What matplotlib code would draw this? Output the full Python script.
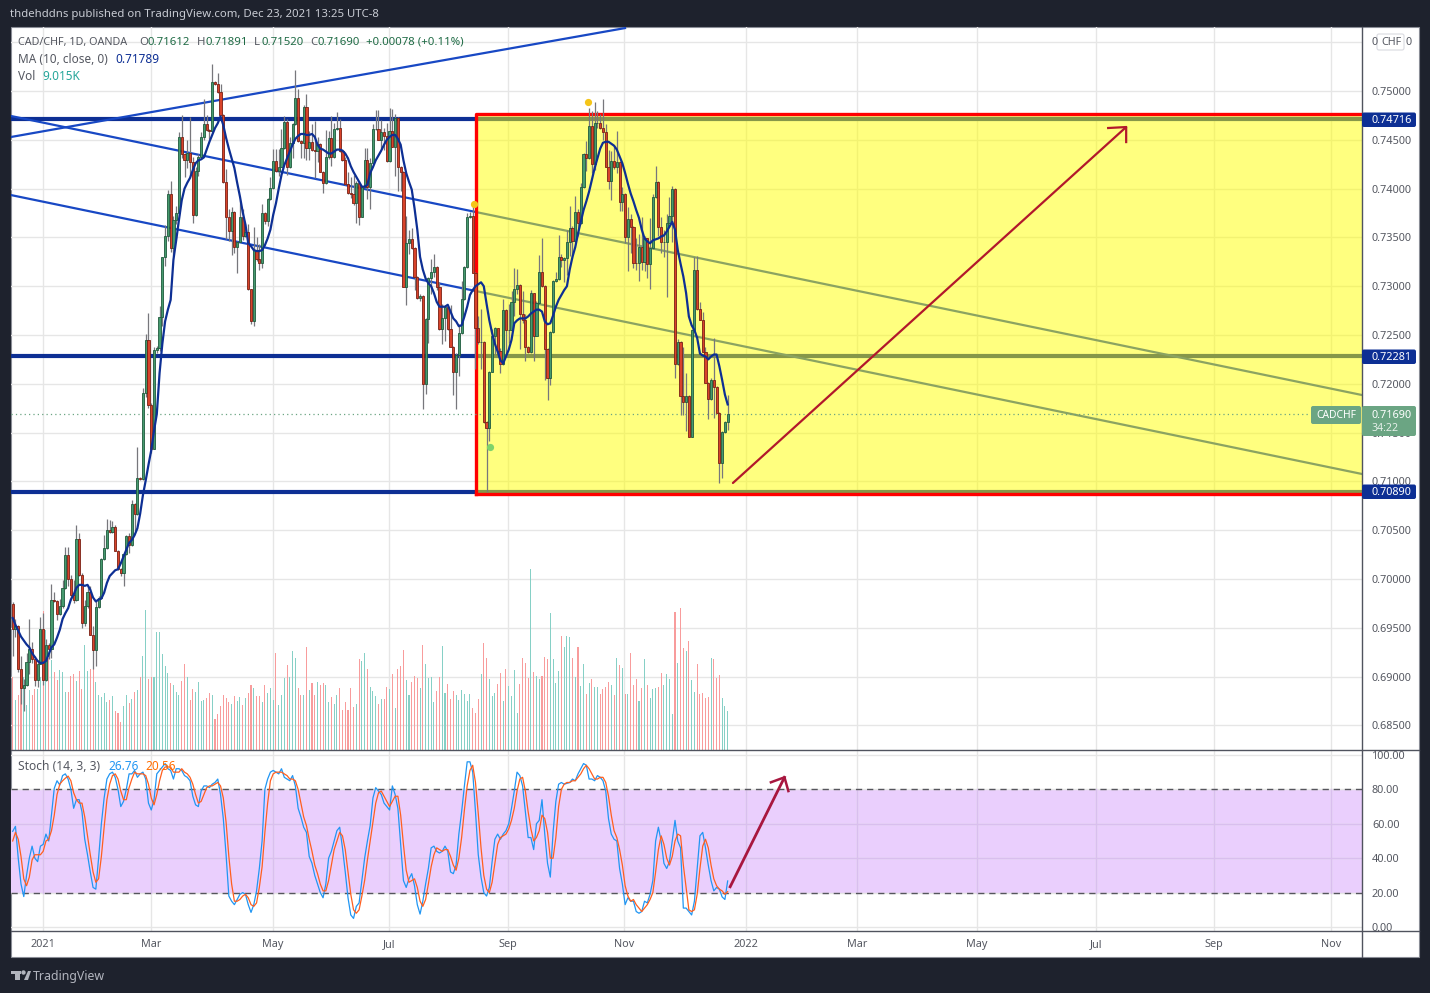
import matplotlib
matplotlib.use("Agg")
import matplotlib.pyplot as plt
import numpy as np
from matplotlib.patches import Rectangle, FancyBboxPatch, Polygon, Circle
from matplotlib.transforms import IdentityTransform

first_open = 0.69745
closes = [
 .69483,.69517,.69082,.68888,.68915,.69153,.69279,.69184,.68963,.69133,
 .69490,.68970,.69323,.69286,.69782,.69772,.69643,.69721,.69908,.70241,
 .70000,.69837,.69786,.70408,.70041,.69551,.69728,.69867,.69429,.69276,
 .69714,.69803,.70204,.70316,.70500,.70479,.70537,.70292,.70102,.70061,
 .70255,.70442,.70347,.70765,.70663,.71040,.71020,.71906,.72449,.71783,
 .71332,.72347,.72364,.72682,.73303,.73518,.73942,.73389,.73675,.73747,
 .74533,.74352,.74290,.74369,.74270,.73727,.74184,.74328,.74526,.74666,
 .74601,.74587,.75096,.75072,.74987,.74755,.74065,.73713,.73570,.73764,
 .73406,.73450,.73713,.73518,.73552,.72969,.72648,.73372,.73276,.73235,
 .73747,.73672,.73891,.74003,.74280,.74184,.74225,.74413,.74679,.74218,
 .74464,.74662,.74925,.74490,.74464,.74840,.74413,.74474,.74396,.74389,
 .74454,.74174,.74054,.74328,.74515,.74328,.74608,.74618,.74389,.74293,
 .74044,.73959,.73945,.73849,.74054,.73706,.74020,.74293,.74020,.74259,
 .74607,.74614,.74498,.74583,.74539,.74283,.74593,.74423,.74720,.74218,
 .74166,.72995,.73439,.73480,.73395,.73091,.72876,.72903,.71995,.72661,
 .73081,.73149,.73200,.72995,.72558,.72671,.72790,.72558,.72374,.72118,
 .72295,.72517,.72865,.73193,.73705,.73719,.73132,.72568,.72432,.72432,
 .71605,.71544,.72124,.72493,.72568,.72339,.72199,.72756,.72551,.72551,
 .72835,.72968,.73016,.72715,.72654,.72380,.72322,.72927,.72490,.72824,
 .73149,.73005,.72353,.72056,.72527,.73053,.73074,.73303,.73268,.73292,
 .73456,.73593,.73466,.73757,.73644,.74013,.74351,.74310,.74641,.74248,
 .74669,.74669,.74617,.74576,.74218,.74081,.74279,.74225,.74269,.73859,
 .73941,.73500,.73685,.73603,.73241,.73234,.73405,.73251,.73490,.73224,
 .73388,.73917,.74064,.73610,.73449,.73456,.73644,.73723,.73992,.72199,
 .72432,.71875,.71810,.71875,.71452,.72551,.73162,.72763,.72654,.72329,
 .72005,.71841,.72039,.71964,.71697,.71185,.71503,.71612,.71690]

wick_up = [
 2,7,1,13,6,9,31,8,3,4, 12,16,6,2,17,9,1,7,8,9, 9,4,15,15,6,2,6,6,6,9,
 7,2,1,13,11,10,6,2,1,1, 1,1,3,4,1,31,1,5,6,28, 2,3,2,12,0,11,4,14,4,7,
 5,22,1,13,36,5,4,3,5,25, 9,1,18,1,11,9,1,14,8,5, 1,1,17,8,9,9,0,23,13,16,
 10,1,1,12,13,13,18,20,7,3, 7,1,29,10,1,2,13,12,19,30, 8,1,1,27,8,23,6,17,10,1,
 3,13,16,19,2,2,1,12,12,5, 5,19,19,12,4,13,23,22,4,1, 1,1,28,10,12,1,1,2,1,1,
 1,13,13,1,5,15,2,1,25,1, 2,10,19,1,5,4,11,1,13,33, 1,1,1,7,1,0,3,11,1,27,
 12,22,16,1,24,6,1,3,0,2, 17,35,1,1,1,1,7,22,3,1, 12,23,2,17,3,4,1,14,18,15,
 22,13,10,30,9,18,11,16,32,1, 8,1,13,6,1,25,13,30,2,0, 31,3,17,1,10,12,10,19,3,1,
 3,1,50,24,1,1,14,15,8,8, 5,1,2,43,1,1,1,1,20]

wick_down = [
 27,8,3,17,24,1,13,4,6,7, 0,6,1,11,10,1,6,1,2,1, 7,5,3,1,1,5,3,2,0,20,
 17,1,1,1,1,1,1,1,1,3, 13,1,8,1,17,1,1,1,4,3, 4,0,3,3,9,10,5,4,8,4,
 2,4,17,8,14,8,1,5,2,3, 1,8,1,1,1,0,1,23,11,25, 7,27,0,4,1,1,3,6,2,7,
 5,3,6,1,1,1,5,0,1,8, 1,15,1,1,15,15,12,12,1,28, 12,0,10,1,2,10,1,1,1,1,
 1,1,4,2,20,8,0,1,13,23, 1,1,0,9,14,1,1,0,29,24, 19,0,19,11,1,13,1,3,25,10,
 24,16,5,3,1,15,23,1,0,23, 38,22,1,1,1,1,0,42,2,28, 1,65,13,0,19,6,9,1,27,13,
 1,14,5,36,3,15,1,1,26,0, 1,1,31,22,7,1,1,1,7,22, 18,15,18,1,13,1,1,13,1,9,
 6,5,1,8,0,9,20,2,6,9, 9,6,34,26,5,7,18,8,10,14, 25,1,1,10,11,15,57,1,27,14,
 1,19,13,29,0,0,0,1,0,0, 0,20,1,31,0,20,15,1,9]

ma10 = [
 .6960,.6953,.6947,.6941,.6937,.6933,.6930,.6924,.6920,.6916,
 .6914,.6914,.6916,.6923,.6930,.6933,.6940,.6948,.6959,.6965,
 .6970,.6979,.6984,.6991,.6994,.6994,.6993,.6994,.6989,.6981,
 .6977,.6979,.6980,.6986,.6996,.7003,.7006,.7009,.7010,.7016,
 .7023,.7030,.7037,.7040,.7045,.7052,.7067,.7086,.7101,.7117,
 .7132,.7152,.7169,.7211,.7241,.7264,.7276,.7286,.7327,.7347,
 .7368,.7388,.7400,.7406,.7411,.7419,.7426,.7429,.7430,.7432,
 .7440,.7448,.7455,.7462,.7467,.7474,.7465,.7452,.7441,.7431,
 .7421,.7406,.7392,.7376,.7363,.7344,.7341,.7337,.7336,.7336,
 .7337,.7342,.7349,.7358,.7373,.7385,.7400,.7414,.7424,.7431,
 .7438,.7445,.7451,.7454,.7456,.7456,.7455,.7455,.7456,.7453,
 .7445,.7441,.7440,.7438,.7436,.7436,.7438,.7440,.7440,.7439,
 .7436,.7431,.7423,.7417,.7412,.7407,.7402,.7402,.7404,.7416,
 .7422,.7429,.7434,.7439,.7445,.7450,.7453,.7455,.7455,.7451,
 .7445,.7429,.7416,.7407,.7399,.7380,.7358,.7330,.7317,.7308,
 .7303,.7300,.7293,.7284,.7279,.7279,.7279,.7281,.7274,.7267,
 .7264,.7259,.7260,.7269,.7279,.7291,.7296,.7300,.7302,.7304,
 .7300,.7282,.7265,.7252,.7241,.7233,.7224,.7221,.7228,.7235,
 .7245,.7262,.7265,.7267,.7267,.7267,.7269,.7272,.7274,.7276,
 .7276,.7274,.7264,.7261,.7262,.7270,.7279,.7286,.7291,.7296,
 .7300,.7317,.7330,.7340,.7354,.7366,.7378,.7387,.7397,.7409,
 .7421,.7431,.7441,.7447,.7448,.7448,.7446,.7444,.7440,.7433,
 .7426,.7416,.7405,.7395,.7387,.7378,.7370,.7358,.7349,.7346,
 .7344,.7347,.7348,.7349,.7351,.7352,.7356,.7361,.7366,.7358,
 .7337,.7323,.7310,.7293,.7269,.7260,.7255,.7247,.7231,.7229,
 .7228,.7225,.7228,.7230,.7230,.7218,.7204,.7189,.71789]

volume_k = [
 16.9,11.6,12.7,16.2,16.9,10.4,13.9,12.7,14.1,14.2,16.9,32.2,27.7,21.2,20.9,18.1,16.2,18.5,18.1,13.5,
 13.5,17.1,17.6,15.9,18.2,14,24.3,18.2,18.8,18.9,15.6,12.7,12.2,13.1,11.2,11.6,12.5,9.1,8.6,6.5,
 10.2,12.7,10.9,11.8,13.3,13.9,16.9,21.7,32.3,16.4,16.9,16.9,27.2,27.2,22.2,19.5,17.7,15.4,15,13.3,
 12.7,15.9,19.9,16.9,11.6,14,13.3,15.6,11.3,11.6,11.9,13.1,12.7,7.2,8.3,10.2,12.7,11.9,11.2,
 10.6,12.5,11.3,12.2,10.4,12,13.2,15,14.3,12.5,12.5,11.1,15,13.2,14.3,11.6,22.4,10.4,12.7,16.6,
 19.6,16.9,22.9,21.3,14.3,12.7,12.7,23.8,13.9,15.5,12.7,15.7,15,15.5,15,11.1,12.2,10.6,12.7,14.3,
 9.2,11.1,9.2,14.3,9.9,10.6,21,20.6,22.4,18.7,14.6,13.6,12.5,10.6,11.8,11.8,14.6,14.1,17.6,9.7,
 18.7,19.4,23.1,16.2,12.7,15.7,17.1,16.6,14.3,24.3,19.9,16.6,16.9,11.1,13.6,16.9,24,13.2,15.2,11.8,
 13.6,12.7,11.6,13.9,12.9,11.3,12.9,9.7,8.5,11.8,
 17.6,24.7,21.3,16.4,12.5,13.2,15.2,17.8,11.3,18.7,14.8,12.5,18.5,8.5,15.2,21.3,20.1,16.6,41.8,18,
 17.1,16.4,17.1,21.5,21,31.6,21,15.5,18.2,26.3,23.8,26.3,26.1,21.3,16.9,23.8,14.8,19.9,12.9,15.5,
 16.4,14.6,14.6,12.9,14.1,14.6,15.7,15,12.7,21.3,19.6,18.9,12.9,12.9,22.4,15,16.4,11.3,14.3,21,
 15,12,14.1,14.3,14.6,17.8,15,17.6,16.4,8.3,31.9,20.1,32.8,23.6,22.9,25.2,16.2,13.4,19.9,12.9,
 13.2,12,12.2,21.3,21,16.6,17.3,12,10.2,9.015]

stoch_k = [
 55.6,58.5,40,25,17.7,30,40,47,40,38, 47,48,54,50,65,80.6,85,82.5,88,89,
 86,80,69,74,74,67,51,42,32,23, 22,40,60,75,86,89,90,87,80,70,
 73,80,89,89,91,87,89,90,86,72, 68,74,89,91,93,95,92,91,86,92,
 92,91,88,87,85,76,71,70,79,82, 82,81,83,84,86,77,63,42,18,15,
 13,16,19,20,19,13,8.5,13,21,34, 50,80,86,90,91,90,89,92,87,86,
 85,88,82,69,64,58,55,41,37,30, 25,20,17,25,40,44,50,56,58,46,
 32,17,7,5,12,14,27,40,50,59, 75,81,79,77,72,70,68,82,77,69,
 48,27,23,28,31,24,13,7.5,15,25, 34,46,47,44,43,44,47,44,32,31,
 36,54,67,82,96,96,90,67,42,29, 20,18,23,38,51,54,51,54,56,60,
 69,79,90,88,82,67,52,52,45,60, 62,74,54,37,29,55,73,83,84,83,
 83.5,84,86,85,89,92,95,94,86,86, 85,88,87,85,79,63,54,51,50,34,
 25,13,17,15,15,9,8,9,15,14, 19,27,50,58,50,37,34,38,50,62,
 50,46,11,11,9,7,15,34,53,55, 46,36,27,21,23,22,17.5,16,26.76]

stoch_d = [
 50,55,51,41,28,24,29,39,42,42, 42,44,50,51,56,65,77,83,85,86.5,
 87.7,85,78,74,72,72,64,53,42,32, 26,28,41,58,74,83,88,89,86,79,
 74,74,81,86,90,89,89,89,88,83, 75,71,77,85,91,93,93,93,90,90,
 90,92,90,89,87,83,77,72,73,77, 81,82,82,83,84,82,75,61,41,25,
 15,15,16,18,19,17,13,12,14,23, 35,55,72,85,89,90,90,90,89,88,
 86,86,85,80,72,64,59,51,44,36, 31,25,21,21,27,36,45,50,55,53,
 45,32,19,10,8,10,18,27,39,50, 61,72,78,79,76,73,70,73,76,76,
 65,48,33,26,27,28,23,15,12,16, 25,35,42,46,45,44,45,45,41,36,
 33,40,52,68,82,91,94,84,66,46, 30,22,20,26,37,48,52,53,54,57,
 62,69,79,86,87,79,67,57,50,52, 56,65,63,55,40,40,52,70,80,83,
 84,84,85,85,87,89,92,94,92,89, 86,86,87,87,84,76,65,56,52,45,
 36,24,18,15,16,13,11,9,11,13, 16,20,32,45,53,48,40,36,41,50,
 54,53,36,23,10,9,10,19,34,47, 51,46,36,28,24,22,21,19,20.56]

price_ticks = [.685,.69,.695,.70,.705,.71,.715,.72,.725,.73,.735,.74,.745,.75,.755]
stoch_ticks = [0,20,40,60,80,100]
time_pos = [10.9,49.9,93.9,135.8,178.7,220.6,264.6,304.7,348,391,433.6,475.8]
time_lab = ["2021","Mar","May","Jul","Sep","Nov","2022","Mar","May","Jul","Sep","Nov"]
levels = [.74716,.72281,.70890]

W, H = 1430, 993
FONT = "Noto Sans"
plt.rcParams['font.family'] = FONT
DARK = '#1e222d'; NAVY = '#0d2f94'; GREY = '#555861'; BADGE = '#6ba583'; ARROW = '#b2182b'
fig = plt.figure(figsize=(W/100, H/100), dpi=100, facecolor=DARK)

def axrect(x0, y0, x1, y1):
    return [x0/W, 1-y1/H, (x1-x0)/W, (y1-y0)/H]
def ptext(x, y, s, color=GREY, size=8.6, ha='left', va='center', z=12, **kw):
    return fig.text(x/W, 1-y/H, s, color=color, fontsize=size, ha=ha, va=va, zorder=z, **kw)
def badge(x0, y0, x1, y1, color, z=10):
    fig.add_artist(FancyBboxPatch((x0+2, H-y1+2), x1-x0-4, y1-y0-4, boxstyle="round,pad=2",
                   fc=color, ec='none', transform=IdentityTransform(), zorder=z))

fig.add_artist(Rectangle((11, H-957), 1408, 930, fc='white', ec='#8a8d96', lw=0.8,
                         transform=IdentityTransform(), zorder=-1))

X0, X1 = 11, 1362
xlim = (-0.61, 486.9)
ylim = (.68248, .75656)
rect_main = axrect(X0, 27, X1, 750)
grid_ax = fig.add_axes(rect_main, zorder=1, facecolor='none')
vol_ax = fig.add_axes(rect_main, zorder=2, facecolor='none')
ax = fig.add_axes(rect_main, zorder=3, facecolor='none')
st = fig.add_axes(axrect(X0, 750.3, X1, 930.5), zorder=3, facecolor='none')

idx = np.arange(len(closes))
c = np.array(closes)
o = np.r_[first_open, c[:-1]]
up = c >= o
hi = np.maximum(o, c) + np.array(wick_up)*1e-4
lo = np.minimum(o, c) - np.array(wick_down)*1e-4

# grid + price scale
grid_ax.set_xlim(xlim); grid_ax.set_ylim(ylim)
grid_ax.set_xticks(time_pos); grid_ax.set_yticks(price_ticks)
grid_ax.set_xticklabels([])
grid_ax.yaxis.tick_right()
grid_ax.set_yticklabels(["" if t == .755 else f"{t:.5f}" for t in price_ticks])
grid_ax.grid(True, color='#e6e6e6', lw=1)
grid_ax.set_axisbelow(True)
grid_ax.tick_params(length=0, labelsize=7.85, labelcolor=GREY, pad=7.2)
for s in grid_ax.spines.values(): s.set_visible(False)

# volume
vol_ax.set_xlim(xlim); vol_ax.set_ylim(0, 723*0.231); vol_ax.axis('off')
vol_ax.bar(idx, volume_k, width=0.38, color=np.where(up, '#86d0c6', '#f89c9c'))

# drawings under the yellow overlay
ax.set_xlim(xlim); ax.set_ylim(ylim); ax.axis('off')
for lv in levels:
    ax.axhline(lv, color=NAVY, lw=3, zorder=2)
ax.plot([-0.61, 220.96], [.74529, .75645], color='#1848c4', lw=1.6, zorder=2)
ax.plot([-0.61, 486.9], [.74744, .71885], color='#1848c4', lw=1.6, zorder=2)
ax.plot([-0.61, 486.9], [.73934, .71076], color='#1848c4', lw=1.6, zorder=2)
ax.add_patch(Rectangle((167.2, .70871), 486.9-167.2, .74764-.70871, fc=(1,1,0,.5), ec='none', zorder=3))
ax.plot([167.2, 167.2, 486.9], [.70871, .74764, .74764], color='#ff0000', lw=2.4, zorder=3.1)
ax.plot([167.2, 486.9], [.70871, .70871], color='#ff0000', lw=2.4, zorder=3.1)

# price dotted line
ax.plot([-0.61, 467.9], [c[-1], c[-1]], color=BADGE, lw=0.9, ls=(0, (1, 2.5)), zorder=3.5)

# candles
ax.vlines(idx, lo, hi, color='#77777c', lw=0.9, zorder=4)
ax.bar(idx, np.abs(c-o), bottom=np.minimum(o, c), width=0.78,
       color=np.where(up, '#469a6e', '#d8432a'), edgecolor=np.where(up, '#1f5a3d', '#7a2014'),
       linewidth=0.6, zorder=5)
ax.plot(idx, ma10, color=NAVY, lw=1.6, zorder=6)

# arrow 1
ax.plot([259.9, 401.8], [.70984, .74631], color=ARROW, lw=1.6, zorder=7, solid_capstyle='round')
ax.plot([395.3, 401.8, 401.8], [.74621, .74631, .74477], color=ARROW, lw=1.6, zorder=7)
# dots
ax.plot([166.5, 207.6], [.73842, .74887], 'o', color='#f5c518', ms=5.2, zorder=8, mec='none')
ax.plot([172.2], [.71352], 'o', color='#7ed36b', ms=5.2, zorder=8, mec='none')

# stochastic
st.set_xlim(xlim); st.set_ylim(-2.03, 102.7)
st.axhspan(20, 80, color='#eacffd', lw=0, zorder=0)
st.set_xticks(time_pos); st.set_yticks(stoch_ticks)
st.set_xticklabels(time_lab)
for lab in st.get_xticklabels():
    if lab.get_text() in ("2021", "2022"):
        lab.set_fontweight('bold')
st.yaxis.tick_right()
st.set_yticklabels([f"{t:.2f}" for t in stoch_ticks])
st.grid(True, color='#e6e6e6', lw=1, zorder=0.5)
st.set_axisbelow(False)
st.tick_params(length=0, labelsize=7.85, labelcolor=GREY)
st.tick_params(axis='y', pad=7.2)
st.tick_params(axis='x', pad=6)
for s in st.spines.values(): s.set_visible(False)
for v in (40, 60):
    st.plot(xlim, [v, v], color='#d9bfee', lw=1, zorder=3)
for pos in time_pos:
    st.plot([pos, pos], [20, 80], color='#d9bfee', lw=1, zorder=3)
for v in (20, 80):
    st.plot(xlim, [v, v], color='#55555c', lw=1, ls=(0, (4.5, 3.5)), zorder=3.2)
st.plot(idx, stoch_k, color='#2196f3', lw=0.9, zorder=4)
st.plot(idx, stoch_d, color='#ff5f1f', lw=0.9, zorder=5)
st.plot([258.9, 278.5], [23.4, 87], color='#a8173f', lw=2, zorder=6)
st.plot([273.6, 278.5, 279.9], [84.1, 87, 79], color='#a8173f', lw=1.8, zorder=6)

# separators
for (x0, y0, x1, y1) in [(1362, 27, 1362, 957), (11, 750.3, 1419, 750.3), (11, 930.5, 1419, 930.5)]:
    fig.add_artist(plt.Line2D([x0/W, x1/W], [1-y0/H, 1-y1/H], color='#50535e', lw=1, zorder=9))

# header & legends
ptext(10, 15, "thdehddns published on TradingView.com, Dec 23, 2021 13:25 UTC-8", color='#c8cbd3', size=8.2)
ptext(18, 42.5, "CAD/CHF, 1D, OANDA", size=7.8)
LG = '#1f6b45'
for x, lab, xv, val in [(139, "O", 147, "0.71612"), (197, "H", 205, "0.71891"),
                        (254, "L", 261, "0.71520"), (310, "C", 318, "0.71690")]:
    ptext(x, 42.5, lab, size=8.2)
    ptext(xv, 42.5, val, color=LG, size=8.2)
ptext(366, 42.5, "+0.00078 (+0.11%)", color=LG, size=8.2)
ptext(18, 59.5, "MA (10, close, 0)", size=8.5)
ptext(115, 59.5, "0.71789", color=NAVY, size=8.5)
ptext(18, 76.5, "Vol", size=8.5)
ptext(42, 76.5, "9.015K", color='#26a69a', size=8.5)
ptext(18, 766.5, "Stoch (14, 3, 3)", size=8.7)
ptext(108, 766.5, "26.76", color='#2196f3', size=8.5)
ptext(145, 766.5, "20.56", color='#ff6d00', size=8.5)

# CHF box with the two ends of the price label beside it
fig.add_artist(FancyBboxPatch((1379, H-48), 23, 12, boxstyle="round,pad=2", fc='white', ec='#d9dae0',
               lw=0.8, transform=IdentityTransform(), zorder=10))
ptext(1391, 42.5, "CHF", size=7.8, ha='center')
ptext(1372, 42.5, "0", size=7.85)
ptext(1405.5, 42.5, "0", size=7.85)

# badges
for y, t in [(119.5, "0.74716"), (356.5, "0.72281"), (491.5, "0.70890")]:
    badge(1362, y-7, 1416, y+7.5, NAVY)
    ptext(1372, y+0.7, t, color='white', size=7.85)
badge(1311, 406, 1361, 424, BADGE)
ptext(1336, 415.5, "CADCHF", color='white', size=7.4, ha='center')
badge(1362, 406, 1416, 436, BADGE)
ptext(1372, 415.5, "0.71690", color='white', size=7.85)
ptext(1372, 428.5, "34:22", color='#e4efe8', size=7.6)

# TradingView mark
for art in [Rectangle((11, H-974), 10, 3.5, fc='#b2b5be', ec='none'),
            Rectangle((15, H-980), 5, 9, fc='#b2b5be', ec='none'),
            Circle((23.5, H-972.5), 2.2, fc='#b2b5be', ec='none'),
            Polygon([(24, H-980), (28, H-971), (31, H-971), (28, H-980)], fc='#b2b5be', ec='none')]:
    art.set_transform(IdentityTransform()); art.set_zorder(10)
    fig.add_artist(art)
ptext(33, 976.5, "TradingView", color='#b2b5be', size=8.9)

fig.savefig("out.png", dpi=100, facecolor=DARK)
